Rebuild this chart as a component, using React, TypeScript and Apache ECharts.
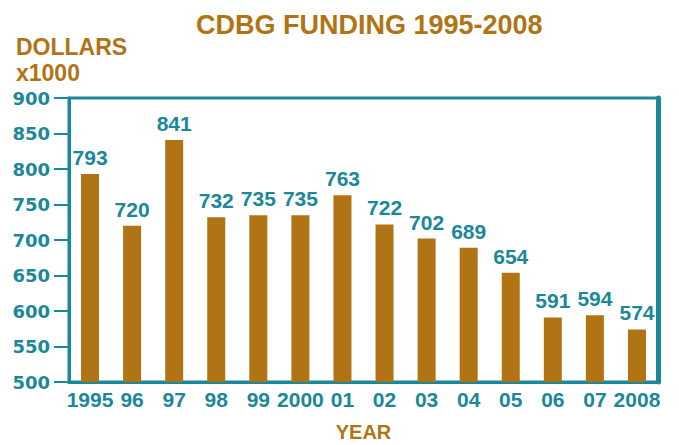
import React, { useEffect, useRef } from "react";
import * as echarts from "echarts";

const categories = ["1995", "96", "97", "98", "99", "2000", "01", "02", "03", "04", "05", "06", "07", "2008"];
const values = [793, 720, 841, 732, 735, 735, 763, 722, 702, 689, 654, 591, 594, 574];
const titleText = "CDBG FUNDING 1995-2008";
const yAxisTitle = "DOLLARS\nx1000";
const xAxisTitle = "YEAR";

const BROWN = "#B07414";
const TEAL = "#1A8899";
const FONT = "'Liberation Sans', Arial, Helvetica, sans-serif";
const WIDE = "'DejaVu Sans', Verdana, sans-serif";

export default function App() {
  const ref = useRef<HTMLDivElement>(null);
  useEffect(() => {
    const chart = echarts.init(ref.current!, null, { renderer: "svg" });
    chart.setOption({
      animation: false,
      backgroundColor: "#ffffff",
      title: [
        {
          text: titleText,
          left: 191,
          top: 6,
          textStyle: { color: BROWN, fontSize: 27, fontWeight: "bold", fontFamily: FONT },
        },
        {
          text: yAxisTitle,
          left: 11,
          top: 29,
          textStyle: { color: BROWN, fontSize: 23, fontWeight: "bold", fontFamily: FONT, lineHeight: 26 },
        },
      ],
      grid: {
        left: 69,
        right: 21,
        top: 98,
        bottom: 63,
        containLabel: false,
        outerBoundsMode: "none",
        show: true,
        borderColor: TEAL,
        borderWidth: 3,
      },
      xAxis: {
        type: "category",
        data: categories,
        name: xAxisTitle,
        nameLocation: "middle",
        nameGap: 40,
        nameTextStyle: { color: BROWN, fontSize: 20, fontWeight: "bold", fontFamily: FONT },
        axisLine: { show: true, lineStyle: { color: TEAL, width: 3 } },
        axisTick: { show: false },
        axisLabel: {
          color: TEAL,
          fontSize: 21,
          fontWeight: "bold",
          fontFamily: FONT,
          margin: 7,
          interval: 0,
        },
      },
      yAxis: [
        {
          type: "value",
          min: 500,
          max: 900,
          interval: 50,
          axisLine: { show: true, lineStyle: { color: TEAL, width: 3 } },
          axisTick: { show: true, length: 15, lineStyle: { color: TEAL, width: 2 } },
          splitLine: { show: false },
          axisLabel: {
            color: TEAL,
            fontSize: 18,
            fontWeight: "bold",
            fontFamily: WIDE,
            margin: 19,
          },
        },
        {
          type: "value",
          min: 500,
          max: 900,
          interval: 50,
          position: "right",
          axisLine: { show: true, lineStyle: { color: TEAL, width: 5 } },
          axisTick: { show: false },
          axisLabel: { show: false },
          splitLine: { show: false },
        },
      ],
      series: [
        {
          type: "bar",
          data: values,
          barWidth: 18,
          itemStyle: { color: BROWN },
          label: {
            show: true,
            position: "top",
            distance: 6,
            color: TEAL,
            fontSize: 21,
            fontWeight: "bold",
            fontFamily: FONT,
          },
        },
      ],
    });
    return () => chart.dispose();
  }, []);
  return (
    <div
      ref={ref}
      style={{ position: "absolute", left: 0, top: 0, width: 679, height: 445 }}
    />
  );
}
